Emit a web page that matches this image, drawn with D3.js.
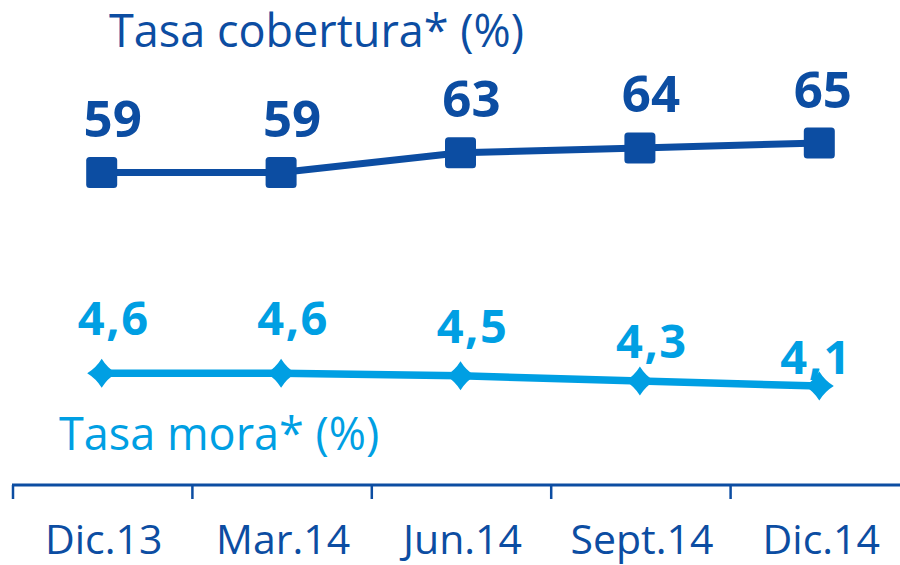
<!DOCTYPE html>
<html>
<head>
<meta charset="utf-8">
<script src="https://cdn.jsdelivr.net/npm/d3@7/dist/d3.min.js"></script>
<style>
  html, body { margin: 0; padding: 0; background: #fff; }
  svg { display: block; font-family: "Open Sans", "Noto Sans", sans-serif; }
</style>
</head>
<body>
<svg id="chart" width="900" height="565"></svg>
<script>
// Quarterly periods
const periods = ["Dic.13", "Mar.14", "Jun.14", "Sept.14", "Dic.14"];
// Coverage ratio (%)
const cobertura = [59, 59, 63, 64, 65];
// Non-performing loan ratio (%)
const mora = [4.6, 4.6, 4.5, 4.3, 4.1];
// Value labels as printed
const coberturaLabels = ["59", "59", "63", "64", "65"];
const moraLabels = ["4,6", "4,6", "4,5", "4,3", "4,1"];

const titleCobertura = "Tasa cobertura* (%)";
const titleMora = "Tasa mora* (%)";

const darkBlue = "#0c4da2";
const lightBlue = "#009fe3";

const svg = d3.select("#chart");

// Horizontal band scale: ticks at band edges, points at band centres
const x = d3.scaleBand().domain(periods).range([12, 909]).padding(0);
const cx = p => x(p) + x.bandwidth() / 2;

// Independent vertical scales for each series
const yCob = d3.scaleLinear().domain([59, 65]).range([172.5, 143]);
const yMora = d3.scaleLinear().domain([4.1, 4.6]).range([386, 373.3]);
const yMoraLabel = d3.scaleLinear().domain([4.1, 4.6]).range([374, 335]);

// Bottom axis
const axisY = 485;
svg.append("line")
  .attr("x1", x.range()[0]).attr("x2", 900)
  .attr("y1", axisY).attr("y2", axisY)
  .attr("stroke", darkBlue).attr("stroke-width", 3);

svg.selectAll("line.tick").data(periods).join("line")
  .attr("class", "tick")
  .attr("x1", d => x(d) + 1).attr("x2", d => x(d) + 1)
  .attr("y1", axisY).attr("y2", axisY + 14)
  .attr("stroke", darkBlue).attr("stroke-width", 2.5);

svg.selectAll("text.period").data(periods).join("text")
  .attr("class", "period")
  .attr("x", d => cx(d) + 2)
  .attr("y", 554)
  .attr("text-anchor", "middle")
  .attr("font-size", 41)
  .attr("fill", darkBlue)
  .text(d => d);

// Coverage ratio line
const cobData = periods.map((p, i) => ({ p, v: cobertura[i], label: coberturaLabels[i] }));
svg.append("path")
  .datum(cobData)
  .attr("fill", "none")
  .attr("stroke", darkBlue)
  .attr("stroke-width", 7)
  .attr("d", d3.line().x(d => cx(d.p)).y(d => yCob(d.v)));

svg.selectAll("rect.sq").data(cobData).join("rect")
  .attr("class", "sq")
  .attr("x", d => cx(d.p) - 15.5)
  .attr("y", d => yCob(d.v) - 15.5)
  .attr("width", 31).attr("height", 31)
  .attr("rx", 3.5)
  .attr("fill", darkBlue);

// Non-performing loan ratio line
const moraData = periods.map((p, i) => ({ p, v: mora[i], label: moraLabels[i] }));
svg.append("path")
  .datum(moraData)
  .attr("fill", "none")
  .attr("stroke", lightBlue)
  .attr("stroke-width", 7.5)
  .attr("d", d3.line().x(d => cx(d.p)).y(d => yMora(d.v)));

// Four-pointed diamond marker with slightly concave sides
const r = 14.5, k = 5.5;
const diamondPath = `M0,${-r} Q${k},${-k} ${r},0 Q${k},${k} 0,${r} Q${-k},${k} ${-r},0 Q${-k},${-k} 0,${-r} Z`;
svg.selectAll("path.dia").data(moraData).join("path")
  .attr("class", "dia")
  .attr("transform", d => `translate(${cx(d.p)},${yMora(d.v)})`)
  .attr("d", diamondPath)
  .attr("fill", lightBlue);

// Value labels, kept inside the right edge of the plot
const rightLimit = 852;
function placeLabel(sel, offset) {
  sel.each(function(d) {
    const t = d3.select(this);
    const w = this.getComputedTextLength();
    let xc = cx(d.p) + offset;
    if (xc + w / 2 > rightLimit) xc = rightLimit - w / 2;
    t.attr("x", xc);
  });
}

svg.selectAll("text.cobLabel").data(cobData).join("text")
  .attr("class", "cobLabel")
  .attr("y", d => yCob(d.v) - 35.5)
  .attr("text-anchor", "middle")
  .attr("font-size", 51)
  .attr("font-weight", 700)
  .attr("fill", darkBlue)
  .text(d => d.label)
  .call(placeLabel, 11);

svg.selectAll("text.moraLabel").data(moraData).join("text")
  .attr("class", "moraLabel")
  .attr("y", d => yMoraLabel(d.v))
  .attr("text-anchor", "middle")
  .attr("font-size", 47)
  .attr("font-weight", 700)
  .attr("letter-spacing", 1.5)
  .attr("fill", lightBlue)
  .text(d => d.label)
  .call(placeLabel, 12);

// Series titles
svg.append("text")
  .attr("x", 109).attr("y", 46.5)
  .attr("font-size", 45)
  .attr("fill", darkBlue)
  .text(titleCobertura);

svg.append("text")
  .attr("x", 59).attr("y", 450)
  .attr("font-size", 45)
  .attr("fill", lightBlue)
  .text(titleMora);
</script>
</body>
</html>
